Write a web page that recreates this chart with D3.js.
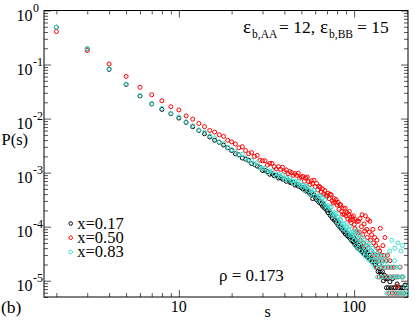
<!DOCTYPE html>
<meta charset="utf-8">
<script src="https://d3js.org/d3.v7.min.js"></script>
<style>
body { margin: 0; background: #fff; }
svg text { font-family: "Liberation Serif", "Times New Roman", "DejaVu Serif", serif; }
</style>
<body>
<script>

// cluster size distribution: [s, log10 P(s)]
var black017 = [
  [2,-0.31],[3,-0.71],[4,-1.09],[5,-1.37],[6,-1.58],[7,-1.73],[8,-1.83],[9,-1.91],[10,-1.99],
  [11,-2.07],[12,-2.15],[13,-2.22],[14,-2.28],[15,-2.34],[16,-2.40],[17,-2.44],[18,-2.49],[19,-2.54],[20,-2.59],
  [21,-2.65],[22,-2.67],[23,-2.73],[24,-2.75],[25,-2.77],[26,-2.83],[27,-2.85],[28,-2.88],[29,-2.90],[30,-2.96],
  [31,-2.96],[32,-2.98],[33,-3.03],[34,-3.02],[35,-3.06],[36,-3.05],[37,-3.10],[38,-3.09],[39,-3.12],[40,-3.12],
  [41,-3.16],[42,-3.14],[43,-3.18],[44,-3.19],[45,-3.18],[46,-3.23],[47,-3.21],[48,-3.25],[49,-3.24],[50,-3.28],
  [51,-3.30],[52,-3.27],[53,-3.34],[54,-3.33],[55,-3.36],[56,-3.40],[57,-3.37],[58,-3.48],[59,-3.41],[60,-3.46],
  [61,-3.50],[62,-3.47],[63,-3.55],[64,-3.53],[65,-3.58],[66,-3.62],[67,-3.59],[68,-3.66],[69,-3.64],[70,-3.70],
  [71,-3.74],[72,-3.70],[73,-3.79],[74,-3.76],[75,-3.84],[76,-3.81],[77,-3.88],[78,-3.86],[79,-3.92],[80,-3.90],
  [81,-3.97],[82,-3.94],[83,-4.01],[84,-3.99],[85,-4.05],[86,-4.03],[87,-4.09],[88,-4.06],[89,-4.13],[90,-4.10],
  [91,-4.16],[92,-4.13],[93,-4.19],[94,-4.17],[95,-4.22],[96,-4.19],[97,-4.26],[98,-4.16],[99,-4.28],[100,-4.21],
  [101,-4.33],[102,-4.25],[103,-4.36],[104,-4.30],[105,-4.40],[107,-4.35],[108,-4.43],[110,-4.38],[111,-4.46],[113,-4.40],
  [114,-4.50],[116,-4.45],[117,-4.53],[119,-4.48],[120,-4.56],[122,-4.53],[123,-4.60],[125,-4.56],[127,-4.65],[128,-4.60],
  [130,-4.65],[132,-4.70],[134,-4.65],[135,-4.75],[137,-4.83],[139,-4.70],[141,-4.83],[143,-4.90],[145,-4.83],[147,-5.00],
  [149,-4.90],[151,-4.96],[153,-5.13],[155,-4.96],[157,-5.13],[160,-5.02],[163,-5.13],[166,-4.96],[168,-5.13],[172,-5.13],
  [176,-5.06],[180,-5.13],[185,-5.13],[190,-5.13],[195,-5.08]
];

var red050 = [
  [2,-0.39],[3,-0.74],[4,-0.99],[5,-1.22],[6,-1.42],[7,-1.56],[8,-1.67],[9,-1.78],[10,-1.84],
  [11,-1.95],[12,-2.01],[13,-2.09],[14,-2.15],[15,-2.22],[16,-2.25],[17,-2.30],[18,-2.33],[19,-2.40],[20,-2.43],
  [21,-2.47],[22,-2.54],[23,-2.52],[24,-2.59],[25,-2.65],[26,-2.63],[27,-2.70],[28,-2.68],[29,-2.77],[30,-2.78],
  [31,-2.78],[32,-2.86],[33,-2.83],[34,-2.83],[35,-2.89],[36,-2.93],[37,-2.89],[38,-2.94],[39,-2.90],[40,-2.98],
  [41,-2.95],[42,-3.02],[43,-2.98],[44,-3.00],[45,-3.05],[46,-3.02],[47,-3.05],[48,-3.01],[49,-3.10],[50,-3.08],
  [51,-3.07],[52,-3.16],[53,-3.10],[54,-3.08],[55,-3.17],[56,-3.22],[57,-3.15],[58,-3.20],[59,-3.14],[60,-3.26],
  [61,-3.20],[62,-3.32],[63,-3.25],[64,-3.27],[65,-3.36],[66,-3.30],[67,-3.39],[68,-3.33],[69,-3.42],[70,-3.44],
  [71,-3.38],[72,-3.48],[73,-3.40],[74,-3.41],[75,-3.52],[76,-3.56],[77,-3.48],[78,-3.55],[79,-3.50],[80,-3.60],
  [81,-3.55],[82,-3.68],[83,-3.59],[84,-3.60],[85,-3.72],[86,-3.77],[87,-3.66],[88,-3.77],[89,-3.66],[90,-3.80],
  [91,-3.74],[92,-3.86],[93,-3.77],[94,-3.72],[95,-3.88],[96,-3.93],[97,-3.82],[98,-3.86],[99,-3.80],[100,-3.96],
  [101,-4.04],[102,-3.87],[103,-4.08],[104,-3.90],[105,-4.12],[106,-3.90],[107,-4.10],[108,-3.85],[109,-4.25],[110,-4.00],
  [111,-3.78],[112,-4.15],[113,-4.30],[114,-3.95],[115,-4.08],[116,-3.80],[117,-4.35],[118,-4.05],[119,-4.20],[120,-3.87],
  [121,-4.40],[122,-4.10],[123,-3.90],[124,-4.25],[125,-4.45],[126,-4.15],[127,-4.50],[128,-4.05],[129,-4.30],[130,-4.53],
  [131,-4.20],[132,-4.63],[133,-4.35],[134,-4.75],[135,-4.25],[136,-4.53],[137,-4.40],[138,-4.63],[139,-4.93],[140,-4.45],
  [141,-4.03],[142,-4.75],[143,-4.53],[145,-4.63],[146,-4.35],[147,-4.93],[148,-4.53],[150,-4.20],[151,-4.75],[152,-4.63],
  [154,-4.93],[155,-4.53],[157,-4.75],[158,-5.23],[160,-4.63],[161,-4.93],[163,-4.75],[165,-5.23],[167,-4.93],[169,-4.75],
  [171,-5.23],[173,-4.93],[175,-5.23],[176,-5.10],[178,-4.93],[180,-5.23],[183,-4.75],[185,-5.23],[188,-4.93],[192,-5.23]
];

var cyan083 = [
  [2,-0.31],[3,-0.71],[4,-1.08],[5,-1.36],[6,-1.57],[7,-1.72],[8,-1.81],[9,-1.90],[10,-1.97],
  [11,-2.06],[12,-2.13],[13,-2.21],[14,-2.25],[15,-2.32],[16,-2.36],[17,-2.43],[18,-2.46],[19,-2.53],[20,-2.57],
  [21,-2.61],[22,-2.68],[23,-2.66],[24,-2.73],[25,-2.79],[26,-2.77],[27,-2.84],[28,-2.82],[29,-2.91],[30,-2.92],
  [31,-2.92],[32,-3.00],[33,-2.97],[34,-2.97],[35,-3.03],[36,-3.07],[37,-3.03],[38,-3.07],[39,-3.04],[40,-3.12],
  [41,-3.10],[42,-3.14],[43,-3.11],[44,-3.15],[45,-3.19],[46,-3.16],[47,-3.19],[48,-3.16],[49,-3.24],[50,-3.23],
  [51,-3.23],[52,-3.33],[53,-3.26],[54,-3.25],[55,-3.33],[56,-3.40],[57,-3.32],[58,-3.37],[59,-3.32],[60,-3.44],
  [61,-3.38],[62,-3.49],[63,-3.43],[64,-3.44],[65,-3.54],[66,-3.47],[67,-3.56],[68,-3.50],[69,-3.62],[70,-3.64],
  [71,-3.61],[72,-3.72],[73,-3.64],[74,-3.64],[75,-3.76],[76,-3.81],[77,-3.74],[78,-3.80],[79,-3.75],[80,-3.91],
  [81,-3.82],[82,-3.97],[83,-3.86],[84,-3.88],[85,-3.99],[86,-4.04],[87,-3.95],[88,-4.05],[89,-3.94],[90,-4.08],
  [91,-4.02],[92,-4.14],[93,-4.05],[94,-4.00],[95,-4.16],[96,-4.22],[97,-4.10],[98,-4.15],[99,-4.10],[100,-4.25],
  [101,-4.10],[102,-4.35],[103,-4.20],[104,-4.08],[105,-4.40],[106,-4.22],[107,-4.30],[108,-4.15],[109,-4.45],[110,-4.28],
  [111,-4.20],[112,-4.50],[113,-4.33],[114,-4.25],[115,-4.40],[116,-4.55],[117,-4.30],[118,-4.45],[119,-4.35],[120,-4.60],
  [121,-4.38],[122,-4.50],[123,-4.30],[124,-4.63],[125,-4.45],[126,-4.55],[127,-4.40],[128,-4.70],[129,-4.50],[130,-4.63],
  [131,-4.45],[132,-4.75],[133,-4.55],[134,-4.63],[135,-4.50],[136,-4.93],[137,-4.60],[138,-4.70],[139,-4.53],[140,-4.75],
  [142,-4.63],[143,-4.93],[144,-4.55],[146,-4.75],[147,-4.63],[148,-4.93],[150,-4.70],[151,-4.53],[153,-4.75],[154,-5.23],
  [156,-4.63],[157,-4.93],[159,-4.75],[160,-4.45],[161,-5.23],[163,-4.93],[164,-4.25],[166,-4.75],[168,-4.93],[170,-4.63],
  [171,-4.40],[172,-5.23],[174,-4.93],[175,-4.75],[177,-5.23],[178,-4.30],[179,-4.93],[181,-4.75],[183,-5.23],[185,-4.45],
  [186,-4.93],[188,-5.23],[189,-4.35],[191,-4.93],[194,-5.23],[197,-5.11],[200,-5.23]
];

var seriesNames = ["x=0.17", "x=0.50", "x=0.83"];
var seriesColors = ["#000000", "#ff0000", "#40e0d0"];
var xLabels = [10, 100];
var yLabelExp = [0, -1, -2, -3, -4, -5];

var W = 415, H = 320;
var padL = 44, padR = 408, padT = 10.5, padB = 297;
var serif = "Liberation Serif, Times New Roman, DejaVu Serif, serif";

var svg = d3.select("body").append("svg")
    .attr("width", W)
    .attr("height", H)
    .attr("font-family", serif);

svg.append("rect").attr("width", W).attr("height", H).attr("fill", "#fff");

var x = d3.scaleLog().domain([1.7, 203]).range([padL, padR]);
var y = d3.scaleLog().domain([5e-6, 1]).range([padB, padT]);

function isMajor(v) {
    var l = Math.log10(v);
    return Math.abs(l - Math.round(l)) < 1e-6;
}

// ticks on all four sides, pointing inward
function tickStyle(g, sign, horiz) {
    g.select(".domain").remove();
    g.selectAll(".tick line")
        .attr("stroke", "#555")
        .attr("stroke-width", 1)
        .attr(horiz ? "y2" : "x2", function(d) { return sign * (isMajor(d) ? 7 : 4); });
    g.selectAll(".tick text").remove();
}

svg.append("g").attr("transform", "translate(0," + padB + ")")
    .call(d3.axisBottom(x).tickValues(x.ticks()).tickSizeOuter(0))
    .call(tickStyle, -1, true);
svg.append("g").attr("transform", "translate(0," + padT + ")")
    .call(d3.axisTop(x).tickValues(x.ticks()).tickSizeOuter(0))
    .call(tickStyle, 1, true);
svg.append("g").attr("transform", "translate(" + padL + ",0)")
    .call(d3.axisLeft(y).tickValues(y.ticks()).tickSizeOuter(0))
    .call(tickStyle, 1, false);
svg.append("g").attr("transform", "translate(" + padR + ",0)")
    .call(d3.axisRight(y).tickValues(y.ticks()).tickSizeOuter(0))
    .call(tickStyle, -1, false);

// frame
svg.append("rect")
    .attr("x", padL).attr("y", padT)
    .attr("width", padR - padL).attr("height", padB - padT)
    .attr("fill", "none").attr("stroke", "#000").attr("stroke-width", 1);

// x tick labels
svg.append("g").selectAll("text").data(xLabels).enter().append("text")
    .attr("x", function(d) { return x(d); })
    .attr("y", 312)
    .attr("text-anchor", "middle")
    .attr("font-size", 16)
    .text(function(d) { return d; });

// y tick labels 10^n
var yl = svg.append("g").selectAll("g").data(yLabelExp).enter().append("g")
    .attr("transform", function(d) { return "translate(0," + (y(Math.pow(10, d)) + 10) + ")"; });
yl.append("text").attr("x", 32.5).attr("text-anchor", "end").attr("font-size", 16).text("10");
yl.append("text").attr("x", 33).attr("y", -8.5).attr("font-size", 12)
    .text(function(d) { return d === 0 ? "0" : "-" + (-d); });

// axis titles
svg.append("text").attr("x", 1.5).attr("y", 145).attr("font-size", 16.5).text("P(s)");
svg.append("text").attr("x", 267.5).attr("y", 317).attr("text-anchor", "middle").attr("font-size", 16).text("s");
svg.append("text").attr("x", 1).attr("y", 313).attr("font-size", 17.5).text("(b)");

// data
[black017, red050, cyan083].forEach(function(data, i) {
    svg.append("g").selectAll("circle").data(data).enter().append("circle")
        .attr("cx", function(d) { return x(d[0]); })
        .attr("cy", function(d) { return y(Math.pow(10, d[1])); })
        .attr("r", 2)
        .attr("fill", "none")
        .attr("stroke", seriesColors[i])
        .attr("stroke-width", 1);
});

// legend
var lg = svg.append("g").selectAll("g").data(seriesNames).enter().append("g")
    .attr("transform", function(d, i) { return "translate(70.7," + (223.5 + i * 14.2) + ")"; });
lg.append("circle").attr("r", 1.8).attr("fill", "none")
    .attr("stroke", function(d, i) { return seriesColors[i]; }).attr("stroke-width", 1);
lg.append("text").attr("x", 6.6).attr("y", 5.5).attr("font-size", 16.5).text(function(d) { return d; });

// annotations
svg.append("text").attr("x", 219).attr("y", 281).attr("font-size", 17).text("ρ = 0.173");

var title = svg.append("text").attr("y", 33).attr("font-size", 17.5);
title.append("tspan").attr("x", 243).attr("font-size", 19).text("ε");
title.append("tspan").attr("x", 252).attr("y", 38).attr("font-size", 11.5).text("b,AA");
title.append("tspan").attr("x", 279).attr("y", 33).text("= 12,");
title.append("tspan").attr("x", 320).attr("font-size", 19).text("ε");
title.append("tspan").attr("x", 329).attr("y", 38).attr("font-size", 11.5).text("b,BB");
title.append("tspan").attr("x", 357).attr("y", 33).text("= 15");

</script>
</body>
